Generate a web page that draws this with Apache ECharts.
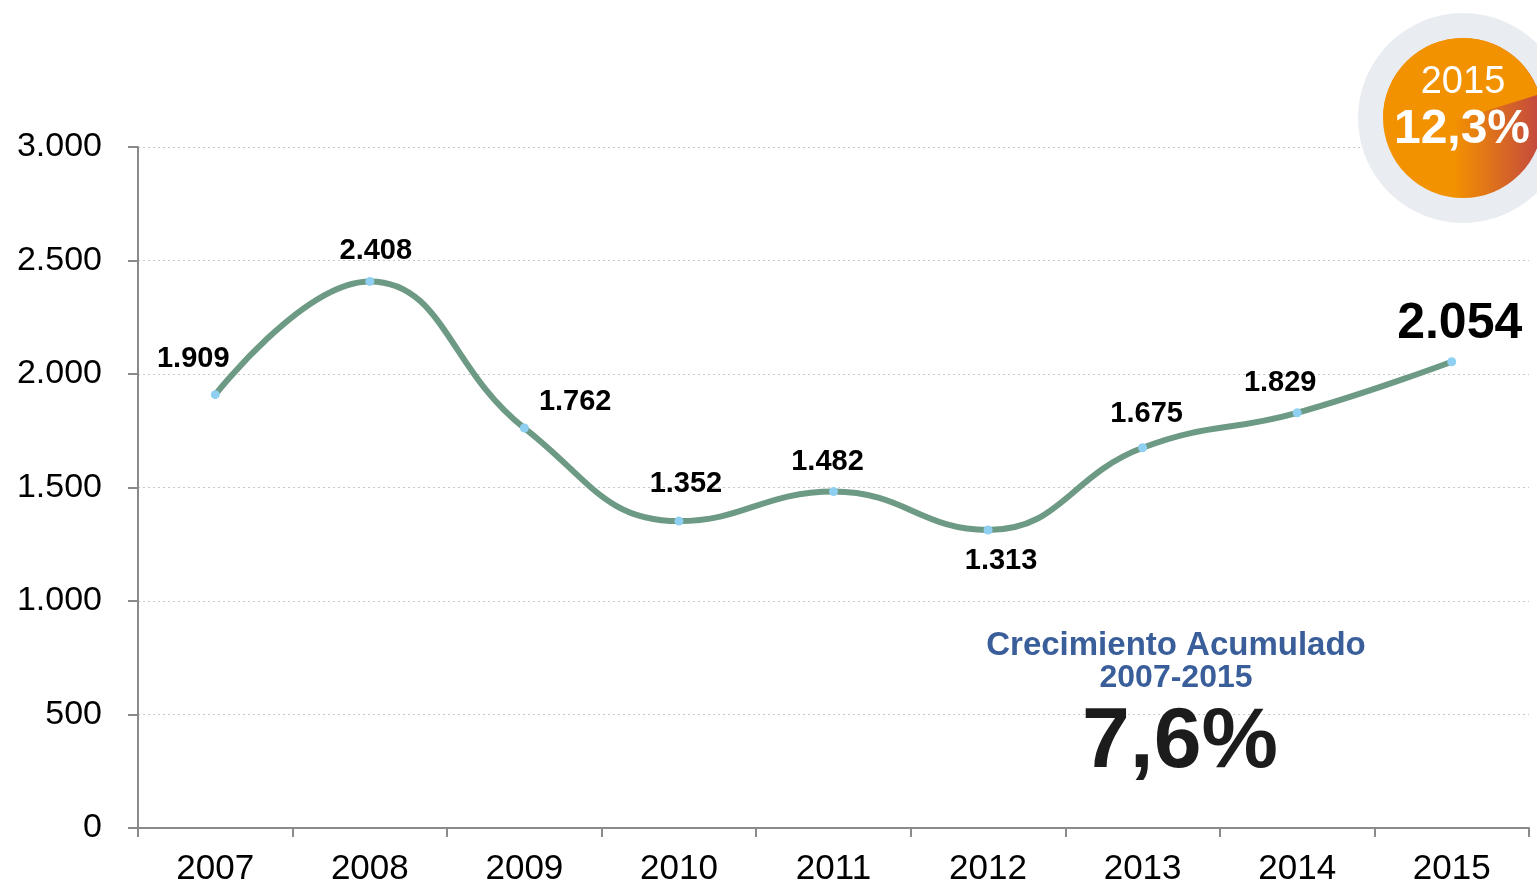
<!DOCTYPE html>
<html>
<head>
<meta charset="utf-8">
<script src="https://cdn.jsdelivr.net/npm/echarts@6/dist/echarts.min.js"></script>
<style>
  html, body { margin: 0; padding: 0; background: #fff; }
  #main { width: 1537px; height: 884px; }
</style>
</head>
<body>
<div id="main"></div>
<script>
var years = ['2007', '2008', '2009', '2010', '2011', '2012', '2013', '2014', '2015'];
var values = [1909, 2408, 1762, 1352, 1482, 1313, 1675, 1829, 2054];
var valueLabels = ['1.909', '2.408', '1.762', '1.352', '1.482', '1.313', '1.675', '1.829', '2.054'];
var yTicks = [0, 500, 1000, 1500, 2000, 2500, 3000];

// where each point label sits, relative to its point
var labelPlace = [
  { position: 'top', offset: [-22, -12] },
  { position: 'top', offset: [6, -6] },
  { position: 'right', offset: [5, -26] },
  { position: 'top', offset: [7, -13] },
  { position: 'top', offset: [-6, -6] },
  { position: 'bottom', offset: [13, 7] },
  { position: 'top', offset: [4, -10] },
  { position: 'top', offset: [-17, -6] },
  { position: 'top', offset: [8, -3], fontSize: 50 }
];

function fmtThousands(v) {
  return String(v).replace(/\B(?=(\d{3})+(?!\d))/g, '.');
}

var chart = echarts.init(document.getElementById('main'));

var seriesData = values.map(function (v, i) {
  var p = labelPlace[i];
  return {
    value: v,
    label: {
      position: p.position,
      offset: p.offset,
      fontSize: p.fontSize || 29,
      formatter: valueLabels[i]
    }
  };
});

var option = {
  backgroundColor: '#ffffff',
  animation: false,
  grid: { left: 138, right: 8, top: 147, bottom: 56, outerBoundsMode: 'none' },
  xAxis: {
    type: 'category',
    data: years,
    boundaryGap: true,
    axisLine: { lineStyle: { color: '#8a8a8a', width: 2 } },
    axisTick: { show: true, length: 9, lineStyle: { color: '#8a8a8a', width: 2 } },
    axisLabel: {
      color: '#000',
      fontSize: 35,
      fontFamily: 'Liberation Sans',
      margin: 24
    },
    splitLine: { show: false }
  },
  yAxis: {
    type: 'value',
    min: yTicks[0],
    max: yTicks[yTicks.length - 1],
    interval: 500,
    axisLine: { show: true, lineStyle: { color: '#8a8a8a', width: 2 } },
    axisTick: { show: true, length: 10, lineStyle: { color: '#8a8a8a', width: 2 } },
    axisLabel: {
      color: '#000',
      fontSize: 34,
      fontFamily: 'Liberation Sans',
      margin: 36,
      formatter: function (v) { return fmtThousands(v); }
    },
    splitLine: { lineStyle: { color: '#c8c8c8', width: 1, type: [2, 3] } }
  },
  series: [{
    type: 'line',
    data: seriesData,
    smooth: 0.45,
    symbol: 'circle',
    symbolSize: 9,
    itemStyle: { color: '#8fd0f2' },
    lineStyle: { color: '#6d9a84', width: 6 },
    label: {
      show: true,
      color: '#000',
      fontWeight: 'bold',
      fontFamily: 'Liberation Sans'
    },
    z: 3
  }],
  graphic: [
    {
      type: 'circle',
      shape: { cx: 1463, cy: 118, r: 105 },
      style: { fill: '#e9ecf1' },
      z: 10
    },
    {
      type: 'circle',
      shape: { cx: 1463, cy: 118, r: 80 },
      style: {
        fill: new echarts.graphic.LinearGradient(0, 0, 1, 0, [
          { offset: 0, color: '#f39200' },
          { offset: 0.44, color: '#f39200' },
          { offset: 0.95, color: '#c64d3b' },
          { offset: 1, color: '#c64d3b' }
        ])
      },
      z: 11
    },
    {
      type: 'sector',
      shape: { cx: 1463, cy: 118, r: 80, r0: 0, startAngle: Math.PI, endAngle: 2 * Math.PI - 0.3 },
      style: { fill: '#f39200' },
      z: 12
    },
    {
      type: 'text',
      x: 1463, y: 83,
      style: {
        text: '2015', fill: '#fff', fontSize: 38,
        fontFamily: 'Liberation Sans', align: 'center', verticalAlign: 'middle'
      },
      z: 13
    },
    {
      type: 'text',
      x: 1462, y: 130,
      style: {
        text: '12,3%', fill: '#fff', fontSize: 48, fontWeight: 'bold',
        fontFamily: 'Liberation Sans', align: 'center', verticalAlign: 'middle'
      },
      z: 13
    },
    {
      type: 'text',
      x: 1176, y: 646,
      style: {
        text: 'Crecimiento Acumulado', fill: '#3a5e9a', fontSize: 33, fontWeight: 'bold',
        fontFamily: 'Liberation Sans', align: 'center', verticalAlign: 'middle'
      },
      z: 13
    },
    {
      type: 'text',
      x: 1176, y: 678,
      style: {
        text: '2007-2015', fill: '#3a5e9a', fontSize: 32, fontWeight: 'bold',
        fontFamily: 'Liberation Sans', align: 'center', verticalAlign: 'middle'
      },
      z: 13
    },
    {
      type: 'text',
      x: 1180, y: 743,
      style: {
        text: '7,6%', fill: '#1c1c1c', fontSize: 86, fontWeight: 'bold',
        fontFamily: 'Liberation Sans', align: 'center', verticalAlign: 'middle'
      },
      z: 13
    }
  ]
};

chart.setOption(option);
</script>
</body>
</html>
